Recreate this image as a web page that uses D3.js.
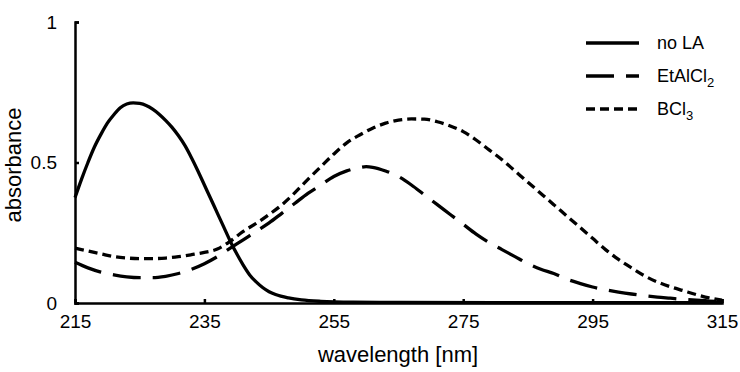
<!DOCTYPE html>
<html><head><meta charset="utf-8">
<script src="https://cdn.jsdelivr.net/npm/d3@7/dist/d3.min.js"></script>
<style>body{margin:0;background:#fff}svg{display:block}text{font-family:"Liberation Sans",Arial,sans-serif;fill:#000}</style>
</head><body><svg id="c" width="740" height="372"></svg>
<script>
const noLA_x = [215,216,217,218,219,220,221,222,223,224,225,226,227,228,229,230,231,232,233,234,235,236,237,238,239,240,241,242,243,244,245,246,248,250,253,258,265,280,300,315];
const noLA_y = [0.375,0.44,0.50,0.555,0.60,0.64,0.67,0.695,0.708,0.712,0.71,0.703,0.69,0.672,0.65,0.625,0.595,0.56,0.517,0.47,0.42,0.37,0.32,0.27,0.22,0.175,0.135,0.10,0.075,0.055,0.04,0.03,0.018,0.011,0.006,0.003,0.002,0.001,0.001,0.001];
const et_x = [215,217,219,221,223,225,227,229,231,233,235,237,239,241,243,245,247,249,251,253,255,257,259,260,261,263,265,267,269,271,273,275,277,279,281,283,285,287,289,291,293,295,297,299,301,303,305,307,309,311,313,315];
const et_y = [0.145,0.125,0.11,0.10,0.093,0.09,0.09,0.095,0.105,0.12,0.14,0.165,0.195,0.225,0.255,0.285,0.32,0.355,0.39,0.42,0.45,0.47,0.482,0.485,0.483,0.47,0.45,0.42,0.385,0.35,0.315,0.28,0.245,0.215,0.19,0.165,0.14,0.12,0.105,0.085,0.07,0.057,0.047,0.039,0.032,0.026,0.021,0.017,0.013,0.01,0.007,0.005];
const bc_x = [215,217,219,221,223,225,227,229,231,233,235,237,239,241,243,245,247,249,251,253,255,257,259,261,263,265,267,269,271,273,275,277,279,281,283,285,287,289,291,293,295,297,299,301,303,305,307,309,311,313,315];
const bc_y = [0.195,0.185,0.175,0.165,0.16,0.158,0.158,0.16,0.165,0.172,0.18,0.192,0.22,0.255,0.283,0.315,0.35,0.393,0.44,0.485,0.53,0.57,0.598,0.622,0.64,0.651,0.655,0.654,0.645,0.63,0.61,0.58,0.545,0.51,0.47,0.43,0.39,0.35,0.31,0.27,0.23,0.19,0.155,0.125,0.097,0.075,0.058,0.044,0.03,0.018,0.01];
const xTicks = [215,235,255,275,295,315];
const yTicks = [0,0.5,1];
const seriesNames = ["no LA","EtAlCl","BCl"];
const seriesSubs = ["","2","3"];
const dashes = [null,"28,12","9,5"];

const svg = d3.select("#c");
const x = d3.scaleLinear().domain([215,315]).range([75,722]);
const y = d3.scaleLinear().domain([0,1]).range([303,22]);

const series = [
  {xs:noLA_x, ys:noLA_y},
  {xs:et_x, ys:et_y},
  {xs:bc_x, ys:bc_y}
];
const line = d3.line().x(d=>x(d[0])).y(d=>y(d[1])).curve(d3.curveMonotoneX);
series.forEach((s,i)=>{
  svg.append("path").datum(s.xs.map((v,j)=>[v,s.ys[j]]))
    .attr("d",line).attr("fill","none").attr("stroke","#000").attr("stroke-width",3.3)
    .attr("stroke-dasharray",dashes[i]);
});

// axes
const xAxis = d3.axisBottom(x).tickValues(xTicks).tickSize(-4).tickPadding(12).tickFormat(d3.format("d"));
const gx = svg.append("g").attr("transform","translate(0,303)").call(xAxis);
const yAxis = d3.axisLeft(y).tickValues(yTicks).tickSize(-4).tickPadding(18).tickFormat(d=>d===0.5?"0.5":String(d));
const gy = svg.append("g").attr("transform","translate(75,0)").call(yAxis);
[gx,gy].forEach(g=>{
  g.select(".domain").attr("stroke","#000").attr("stroke-width",2.5);
  g.selectAll(".tick line").attr("stroke","#000").attr("stroke-width",2.5);
  g.selectAll(".tick text").attr("font-size",19).attr("font-family","Liberation Sans, Arial, sans-serif").attr("fill","#000");
});

svg.append("text").attr("x",398).attr("y",362).attr("text-anchor","middle").attr("font-size",22).text("wavelength [nm]");
svg.append("text").attr("transform","translate(21,165) rotate(-90)").attr("text-anchor","middle").attr("font-size",22).text("absorbance");

// legend
const ly = [43,76,109];
seriesNames.forEach((n,i)=>{
  svg.append("line").attr("x1",586).attr("x2",639).attr("y1",ly[i]).attr("y2",ly[i])
    .attr("stroke","#000").attr("stroke-width",3.5).attr("stroke-dasharray",dashes[i]);
  const t = svg.append("text").attr("x",657).attr("y",ly[i]+6).attr("font-size",18);
  t.append("tspan").text(n);
  if(seriesSubs[i]) t.append("tspan").attr("font-size",13).attr("dy",5).text(seriesSubs[i]);
});
</script></body></html>
